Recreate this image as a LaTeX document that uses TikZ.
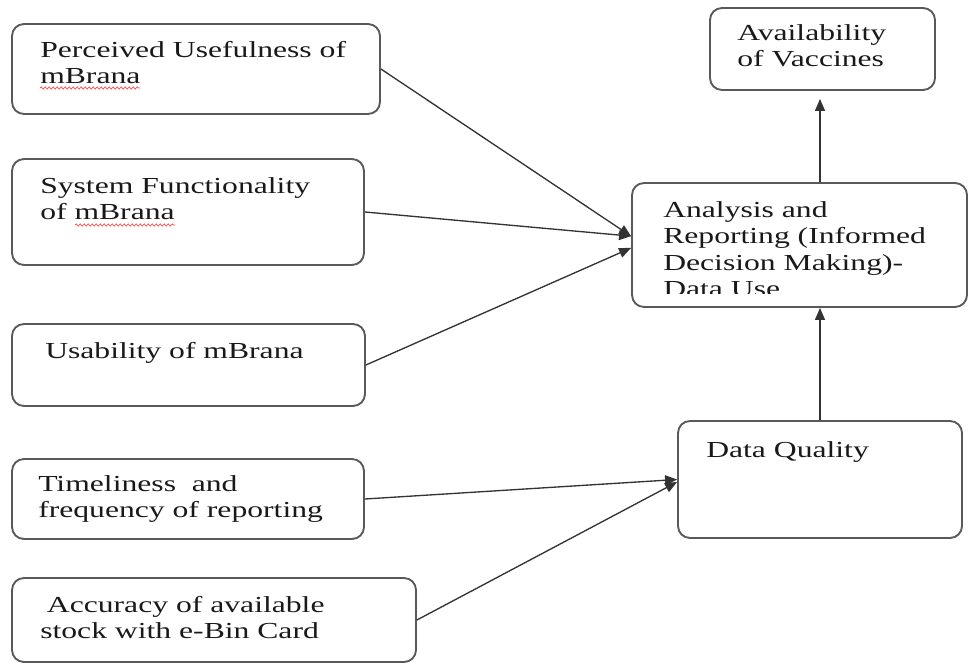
\documentclass[tikz,border=0pt]{standalone}
\usepackage{fontspec}
\setmainfont{Liberation Serif}[FakeStretch=1.38]
\usetikzlibrary{arrows.meta,fit,decorations.pathmorphing}

\tikzset{
  box/.style={draw=black!65, line width=1.4pt, rounded corners=9pt, inner sep=0pt},
  lbl/.style={anchor=north west, inner sep=0pt, align=left, text=black!90,
    font=\fontsize{17.2}{19.9}\selectfont},
  arr/.style={draw=black!80, line width=1pt, -{Triangle[length=9pt,width=7.5pt]}},
  squiggle/.style={draw=red!75, line width=0.5pt, decorate,
    decoration={snake, amplitude=0.8pt, segment length=3pt}}
}

\begin{document}
\begin{tikzpicture}[x=0.75pt,y=0.75pt,yscale=-1,xscale=1]
\useasboundingbox (0,0) rectangle (968,663);

%Rounded Rect: left column
\node[box, fit={(12,24) (380,114)}] (pu) {};
\node[box, fit={(12,159) (364,265)}] (sf) {};
\node[box, fit={(12,324) (365,406)}] (us) {};
\node[box, fit={(12,459) (364,539)}] (tf) {};
\node[box, fit={(12,578) (416,662)}] (ac) {};
%Rounded Rect: right column
\node[box, fit={(710,8) (935,90)}] (av) {};
\node[box, fit={(632,183) (967,307)}] (an) {};
\node[box, fit={(678,421) (962,538)}] (dq) {};

% Text Node
\node[lbl] (pu-t) at (40,41) {Perceived Usefulness of\\mBrana};
% Text Node
\node[lbl] (sf-t) at (40,177) {System Functionality\\of mBrana};
% Text Node
\node[lbl] (us-t) at (45,342) {Usability of mBrana};
% Text Node
\node[lbl] (tf-t) at (38,475) {Timeliness\ \ and\\frequency of reporting};
% Text Node
\node[lbl] (ac-t) at (40,596) {\hspace*{5pt}Accuracy of available\\stock with e-Bin Card};
% Text Node
\node[lbl] (av-t) at (737,24) {Availability\\of Vaccines};
% Text Node
\begin{scope}
\clip (632,183) rectangle (967,293);
\node[lbl] (an-t) at (663,201) {Analysis and\\Reporting (Informed\\Decision Making)-\\Data Use};
\end{scope}
% Text Node
\node[lbl] (dq-t) at (706,441) {Data Quality};

%Spelling marks
\draw[squiggle] (40,88) -- (140,88);
\draw[squiggle] (75,225) -- (175,225);

%Straight Lines
\draw[arr] (pu.east) -- (an.177);
\draw[arr] (sf.east) -- (an.177);
\draw[arr] (us.east) -- (an.181.5);
\draw[arr] (tf.east) -- (dq.west);
\draw[arr] (ac.east) -- (dq.181);
\draw[arr] (dq.north) -- (dq.north |- an.south);
\draw[arr, shorten >=6pt] (dq.north |- an.north) -- (dq.north |- av.south);

\end{tikzpicture}
\end{document}
